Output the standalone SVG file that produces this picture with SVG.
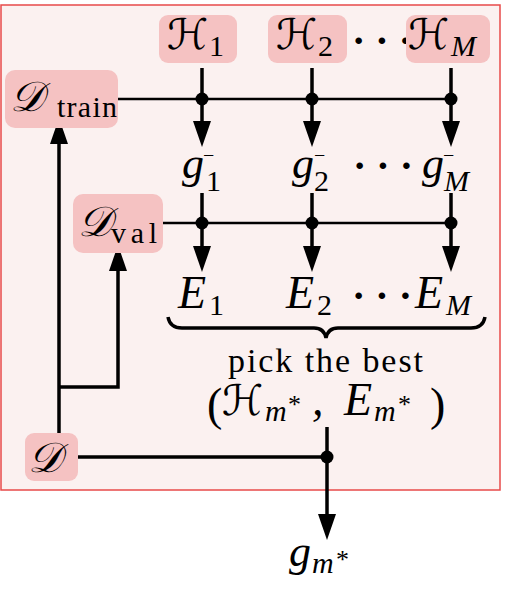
<svg xmlns="http://www.w3.org/2000/svg" width="518" height="590" viewBox="0 0 518 590">
<style>
.box{fill:#f5c2c2;stroke:none}
.m{font-family:"Liberation Serif","DejaVu Serif",serif;font-style:italic;font-size:46px;fill:#000}
.g{font-family:"Liberation Serif","DejaVu Serif",serif;font-style:italic;font-size:44px;fill:#000}
.cal{font-family:"DejaVu Serif","DejaVu Sans","Liberation Serif",serif;font-style:italic;font-size:42px;fill:#000}
.sub{font-family:"Liberation Serif",serif;font-size:30px;fill:#000}
.subi{font-family:"Liberation Serif",serif;font-style:italic;font-size:30px;fill:#000}
.sup{font-family:"Liberation Serif",serif;font-size:20px;fill:#000}
.star{font-family:"Liberation Serif",serif;font-size:26px;fill:#000}
.par{font-family:"Liberation Serif",serif;font-size:46px;fill:#000}
.rm{font-family:"Liberation Serif",serif;font-size:34px;fill:#000}
.dots{font-family:"Liberation Serif",serif;font-size:40px;font-weight:bold;fill:#000}
.thick{stroke:#000;stroke-width:3.5;fill:none}
.thin{stroke:#000;stroke-width:2.5;fill:none}
.arr{stroke:#000;stroke-width:3.5;fill:none;marker-end:url(#ah)}
</style>
<defs>
<marker id="ah" markerUnits="userSpaceOnUse" markerWidth="26" markerHeight="18" refX="16" refY="9" orient="auto" viewBox="0 0 26 18">
<path d="M0,0 L26,9 L0,18 z" fill="#000"/>
</marker>
</defs>
<rect id="frame" x="1" y="5" width="499" height="485" fill="#fbf1f0" stroke="#e84a4a" stroke-width="1.5"/>
<g id="connectors">
<path class="thin" d="M118,99 H451"/>
<path class="thin" d="M163,223 H451"/>
<path class="arr" d="M202,68 V137"/>
<path class="arr" d="M312,68 V137"/>
<path class="arr" d="M451,68 V137"/>
<path class="arr" d="M202,193 V262"/>
<path class="arr" d="M312,193 V262"/>
<path class="arr" d="M451,193 V262"/>
<path class="arr" d="M59,433 V128"/>
<path class="arr" d="M59,387 H118 V255"/>
<path class="thick" d="M78,457 H327"/>
<path class="arr" d="M327,427 V530"/>
<g fill="#000">
<circle cx="202" cy="99" r="6.5"/><circle cx="312" cy="99" r="6.5"/><circle cx="451" cy="99" r="6.5"/>
<circle cx="202" cy="223" r="6.5"/><circle cx="312" cy="223" r="6.5"/><circle cx="451" cy="223" r="6.5"/>
<circle cx="327" cy="457" r="6.5"/>
</g>
<path class="thick" d="M168,317 Q170,328 182,328 H314 Q324,328 326,338 Q328,328 338,328 H471 Q483,328 485,317"/>
</g>
<g id="node-H1"><rect class="box" x="159" y="15" width="78" height="48" rx="9"/><text class="cal" x="167" y="49">ℋ</text><text class="sub" x="209" y="56">1</text></g>
<g id="node-H2"><rect class="box" x="268" y="15" width="79" height="48" rx="9"/><text class="cal" x="276" y="49">ℋ</text><text class="sub" x="318" y="56">2</text></g>
<text class="dots" x="352" y="54">· · ·</text>
<g id="node-HM"><rect class="box" x="406" y="15" width="84" height="48" rx="9"/><text class="cal" x="408" y="49">ℋ</text><text class="subi" x="451" y="56">M</text></g>
<g id="node-Dtrain"><rect class="box" x="5" y="70" width="113" height="58" rx="10"/><text class="cal" x="10" y="111">𝒟</text><text class="sub" x="57" y="117" textLength="60" lengthAdjust="spacing">train</text></g>
<g id="node-Dval"><rect class="box" x="73" y="194" width="90" height="59" rx="10"/><text class="cal" x="78" y="236">𝒟</text><text class="sub" x="111" y="243" textLength="46" lengthAdjust="spacing">val</text></g>
<g id="node-D"><rect class="box" x="25" y="433" width="53" height="48" rx="9"/><text class="cal" x="28" y="472">𝒟</text></g>
<g id="node-g">
<text class="g" x="182" y="178">g</text><text class="sup" x="203" y="162">−</text><text class="sub" x="206" y="191">1</text>
<text class="g" x="292" y="178">g</text><text class="sup" x="314" y="162">−</text><text class="sub" x="314" y="191">2</text>
<text class="dots" x="353" y="179">· · ·</text>
<text class="g" x="422" y="178">g</text><text class="sup" x="443" y="162">−</text><text class="subi" x="444" y="191">M</text>
</g>
<g id="node-E">
<text class="m" x="178" y="308">E</text><text class="sub" x="209" y="315">1</text>
<text class="m" x="286" y="308">E</text><text class="sub" x="317" y="315">2</text>
<text class="dots" x="352" y="309">· · ·</text>
<text class="m" x="415" y="308">E</text><text class="subi" x="446" y="315">M</text>
</g>
<g id="node-pick">
<text class="rm" x="228" y="372" textLength="195" lengthAdjust="spacing">pick the best</text>
<text class="par" x="207" y="420">(</text>
<text class="cal" x="222" y="415">ℋ</text><text class="subi" x="265" y="421">m</text><text class="star" x="288" y="413">*</text>
<text class="m" x="312" y="415">,</text>
<text class="m" x="344" y="415">E</text><text class="subi" x="374" y="421">m</text><text class="star" x="398" y="413">*</text>
<text class="par" x="430" y="420">)</text>
</g>
<g id="node-gout">
<text class="g" x="289" y="566">g</text><text class="subi" x="312" y="573">m</text><text class="star" x="336" y="568">*</text>
</g>
</svg>
